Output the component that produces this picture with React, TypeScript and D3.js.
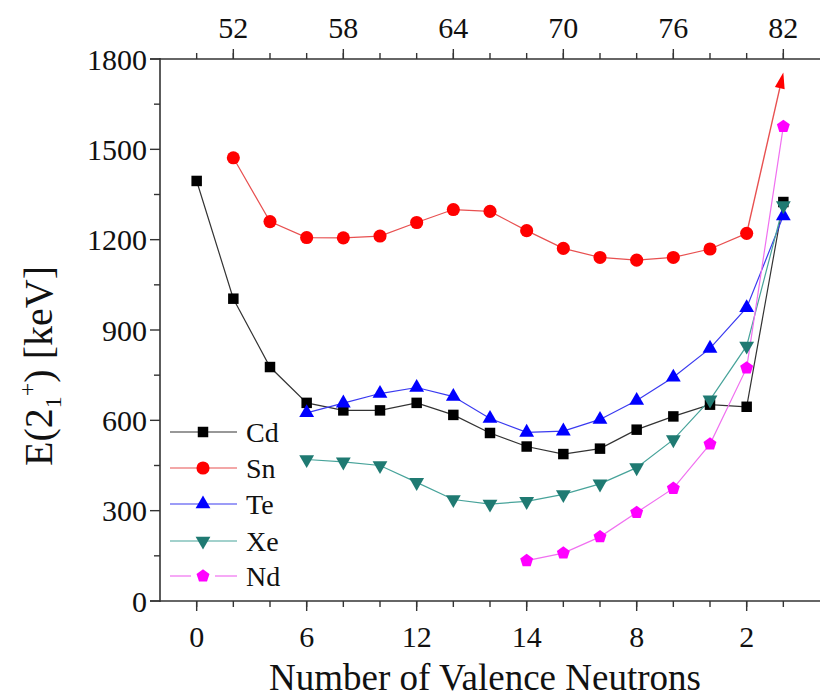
import React from "react";
import * as d3 from "d3";

// ---------- data ----------
const cdN = [50, 52, 54, 56, 58, 60, 62, 64, 66, 68, 70, 72, 74, 76, 78, 80, 82];
const cdE = [1395, 1004, 777, 658, 633, 633, 658, 618, 558, 513, 488, 506, 569, 613, 652, 645, 1325];

const snN = [52, 54, 56, 58, 60, 62, 64, 66, 68, 70, 72, 74, 76, 78, 80];
const snE = [1472, 1260, 1207, 1206, 1212, 1257, 1300, 1294, 1230, 1171, 1141, 1132, 1141, 1169, 1221];
const snArrowN = 82;
const snArrowE = 1755;

const teN = [56, 58, 60, 62, 64, 66, 68, 70, 72, 74, 76, 78, 80, 82];
const teE = [625, 657, 689, 709, 679, 606, 560, 564, 603, 666, 743, 839, 974, 1279];

const xeN = [56, 58, 60, 62, 64, 66, 68, 70, 72, 74, 76, 78, 80, 82];
const xeE = [470, 462, 450, 394, 337, 322, 331, 354, 389, 443, 536, 668, 847, 1313];

const ndN = [68, 70, 72, 74, 76, 78, 80, 82];
const ndE = [134, 159, 213, 294, 374, 521, 774, 1576];

const topTickLabels = ["52", "58", "64", "70", "76", "82"];
const topTickValues = [52, 58, 64, 70, 76, 82];
const bottomTickLabels = ["0", "6", "12", "14", "8", "2"];
const bottomTickValues = [50, 56, 62, 68, 74, 80];
const minorTickValues = [50, 52, 54, 56, 58, 60, 62, 64, 66, 68, 70, 72, 74, 76, 78, 80, 82];
const yTickValues = [0, 300, 600, 900, 1200, 1500, 1800];
const yMinorValues = [150, 450, 750, 1050, 1350, 1650];

const seriesNames = ["Cd", "Sn", "Te", "Xe", "Nd"];

// ---------- layout ----------
const W = 824;
const H = 698;
const X0 = 160;
const X1 = 820;
const Y0 = 601;
const Y1 = 59;
const FONT = '"Liberation Serif", "Times New Roman", Times, serif';

const x = d3.scaleLinear().domain([48, 84]).range([X0, X1]);
const y = d3.scaleLinear().domain([0, 1800]).range([Y0, Y1]);

type Series = {
  name: string;
  n: number[];
  e: number[];
  marker: string;
  line: string;
  shape: "square" | "circle" | "tri" | "tridown" | "pent";
};

const series: Series[] = [
  { name: seriesNames[0], n: cdN, e: cdE, marker: "#000000", line: "#333333", shape: "square" },
  { name: seriesNames[1], n: snN, e: snE, marker: "#ff0000", line: "#e85050", shape: "circle" },
  { name: seriesNames[2], n: teN, e: teE, marker: "#0000ff", line: "#3a3af0", shape: "tri" },
  { name: seriesNames[3], n: xeN, e: xeE, marker: "#1f7a72", line: "#47a39a", shape: "tridown" },
  { name: seriesNames[4], n: ndN, e: ndE, marker: "#ff00ff", line: "#f070f0", shape: "pent" },
];

function pentPath(r: number) {
  const pts: string[] = [];
  for (let i = 0; i < 5; i++) {
    const a = -Math.PI / 2 + (i * 2 * Math.PI) / 5;
    pts.push(`${(r * Math.cos(a)).toFixed(2)},${(r * Math.sin(a)).toFixed(2)}`);
  }
  return "M" + pts.join("L") + "Z";
}

function markerPath(shape: Series["shape"]) {
  switch (shape) {
    case "square":
      return d3.symbol(d3.symbolSquare, 110)()!;
    case "circle":
      return d3.symbol(d3.symbolCircle, 135)()!;
    case "tri":
      return d3.symbol(d3.symbolTriangle, 95)()!;
    case "tridown":
      return d3.symbol(d3.symbolTriangle, 95)()!;
    case "pent":
      return pentPath(6.8);
  }
}

function Marker({ s, cx, cy }: { s: Series; cx: number; cy: number }) {
  const rot = s.shape === "tridown" ? 180 : 0;
  return (
    <path
      d={markerPath(s.shape)}
      transform={`translate(${cx},${cy}) rotate(${rot})`}
      fill={s.marker}
    />
  );
}

export default function App() {
  const line = d3
    .line<[number, number]>()
    .x((d) => x(d[0]))
    .y((d) => y(d[1]));

  // Sn arrow
  const snLastN = snN[snN.length - 1];
  const snLastE = snE[snE.length - 1];
  const ax0 = x(snLastN);
  const ay0 = y(snLastE);
  const ax1 = x(snArrowN);
  const ay1 = y(snArrowE);
  const ang = Math.atan2(ay1 - ay0, ax1 - ax0);
  const hl = 16;
  const hw = 5;
  const bx = ax1 - hl * Math.cos(ang);
  const by = ay1 - hl * Math.sin(ang);
  const arrowHead = `M${ax1},${ay1}L${bx + hw * Math.sin(ang)},${by - hw * Math.cos(ang)}L${bx - hw * Math.sin(ang)},${by + hw * Math.cos(ang)}Z`;

  const legendY = [432, 468, 504, 541, 576];
  const textStyle = { fontFamily: FONT };

  return (
    <svg
      width={W}
      height={H}
      style={{ position: "absolute", left: 0, top: 0, background: "#fff", fontFamily: FONT }}
    >
      <rect x={0} y={0} width={W} height={H} fill="#fff" />

      {/* series lines */}
      {series.map((s) => (
        <path
          key={s.name + "-line"}
          d={line(s.n.map((n, i) => [n, s.e[i]] as [number, number]))!}
          fill="none"
          stroke={s.line}
          strokeWidth={1.2}
        />
      ))}
      {/* Sn arrow */}
      <line x1={ax0} y1={ay0} x2={bx} y2={by} stroke={series[1].line} strokeWidth={1.4} />
      <path d={arrowHead} fill="#ff0000" />

      {/* markers */}
      {series.map((s) =>
        s.n.map((n, i) => (
          <Marker key={s.name + i} s={s} cx={x(n)} cy={y(s.e[i])} />
        ))
      )}

      {/* axes */}
      <g stroke="#333" strokeWidth={1.6} fill="none">
        <line x1={X0} y1={Y1 - 1} x2={X0} y2={Y0 + 1} />
        <line x1={X0 - 10} y1={Y0} x2={X1} y2={Y0} />
        <line x1={X0 - 10} y1={Y1} x2={X1} y2={Y1} />
      </g>
      {/* ticks */}
      <g stroke="#333" strokeWidth={1.4}>
        {yTickValues.map((v) => (
          <line key={"yt" + v} x1={X0 - 10} x2={X0} y1={y(v)} y2={y(v)} />
        ))}
        {yMinorValues.map((v) => (
          <line key={"ym" + v} x1={X0 - 6} x2={X0} y1={y(v)} y2={y(v)} />
        ))}
        {minorTickValues.map((v) => (
          <line key={"bm" + v} x1={x(v)} x2={x(v)} y1={Y0} y2={Y0 + 6} />
        ))}
        {bottomTickValues.map((v) => (
          <line key={"bt" + v} x1={x(v)} x2={x(v)} y1={Y0} y2={Y0 + 10} />
        ))}
        {minorTickValues.map((v) => (
          <line key={"tm" + v} x1={x(v)} x2={x(v)} y1={Y1} y2={Y1 - 6} />
        ))}
        {topTickValues.map((v) => (
          <line key={"tt" + v} x1={x(v)} x2={x(v)} y1={Y1} y2={Y1 - 10} />
        ))}
      </g>

      {/* tick labels */}
      <g fontSize={30} fill="#111" style={textStyle}>
        {yTickValues.map((v) => (
          <text key={"yl" + v} x={X0 - 13} y={y(v)} dy="0.35em" textAnchor="end" style={textStyle}>
            {String(v)}
          </text>
        ))}
        {bottomTickValues.map((v, i) => (
          <text key={"bl" + v} x={x(v)} y={Y0 + 46} textAnchor="middle" style={textStyle}>
            {bottomTickLabels[i]}
          </text>
        ))}
        {topTickValues.map((v, i) => (
          <text key={"tl" + v} x={x(v)} y={Y1 - 21} textAnchor="middle" style={textStyle}>
            {topTickLabels[i]}
          </text>
        ))}
      </g>

      {/* axis titles */}
      <text x={485} y={690} fontSize={37} textAnchor="middle" fill="#111" style={textStyle}>
        Number of Valence Neutrons
      </text>
      <text
        transform={`translate(52, 366) rotate(-90)`}
        fontSize={40}
        textAnchor="middle"
        fill="#111"
        style={textStyle}
      >
        E(2
        <tspan fontSize={24} dy={9}>1</tspan>
        <tspan fontSize={24} dy={-26}>+</tspan>
        <tspan dy={17}>) [keV]</tspan>
      </text>

      {/* legend */}
      {series.map((s, i) => (
        <g key={"lg" + s.name}>
          {s.shape === "pent" ? (
            <>
              <line x1={170} x2={191} y1={legendY[i]} y2={legendY[i]} stroke={s.line} strokeWidth={1.2} />
              <line x1={215} x2={237} y1={legendY[i]} y2={legendY[i]} stroke={s.line} strokeWidth={1.2} />
            </>
          ) : (
            <line x1={170} x2={237} y1={legendY[i]} y2={legendY[i]} stroke={s.line} strokeWidth={1.2} />
          )}
          <Marker s={s} cx={203} cy={legendY[i]} />
          <text x={246} y={legendY[i]} dy="0.35em" fontSize={28} fill="#111" style={textStyle}>
            {s.name}
          </text>
        </g>
      ))}
    </svg>
  );
}
